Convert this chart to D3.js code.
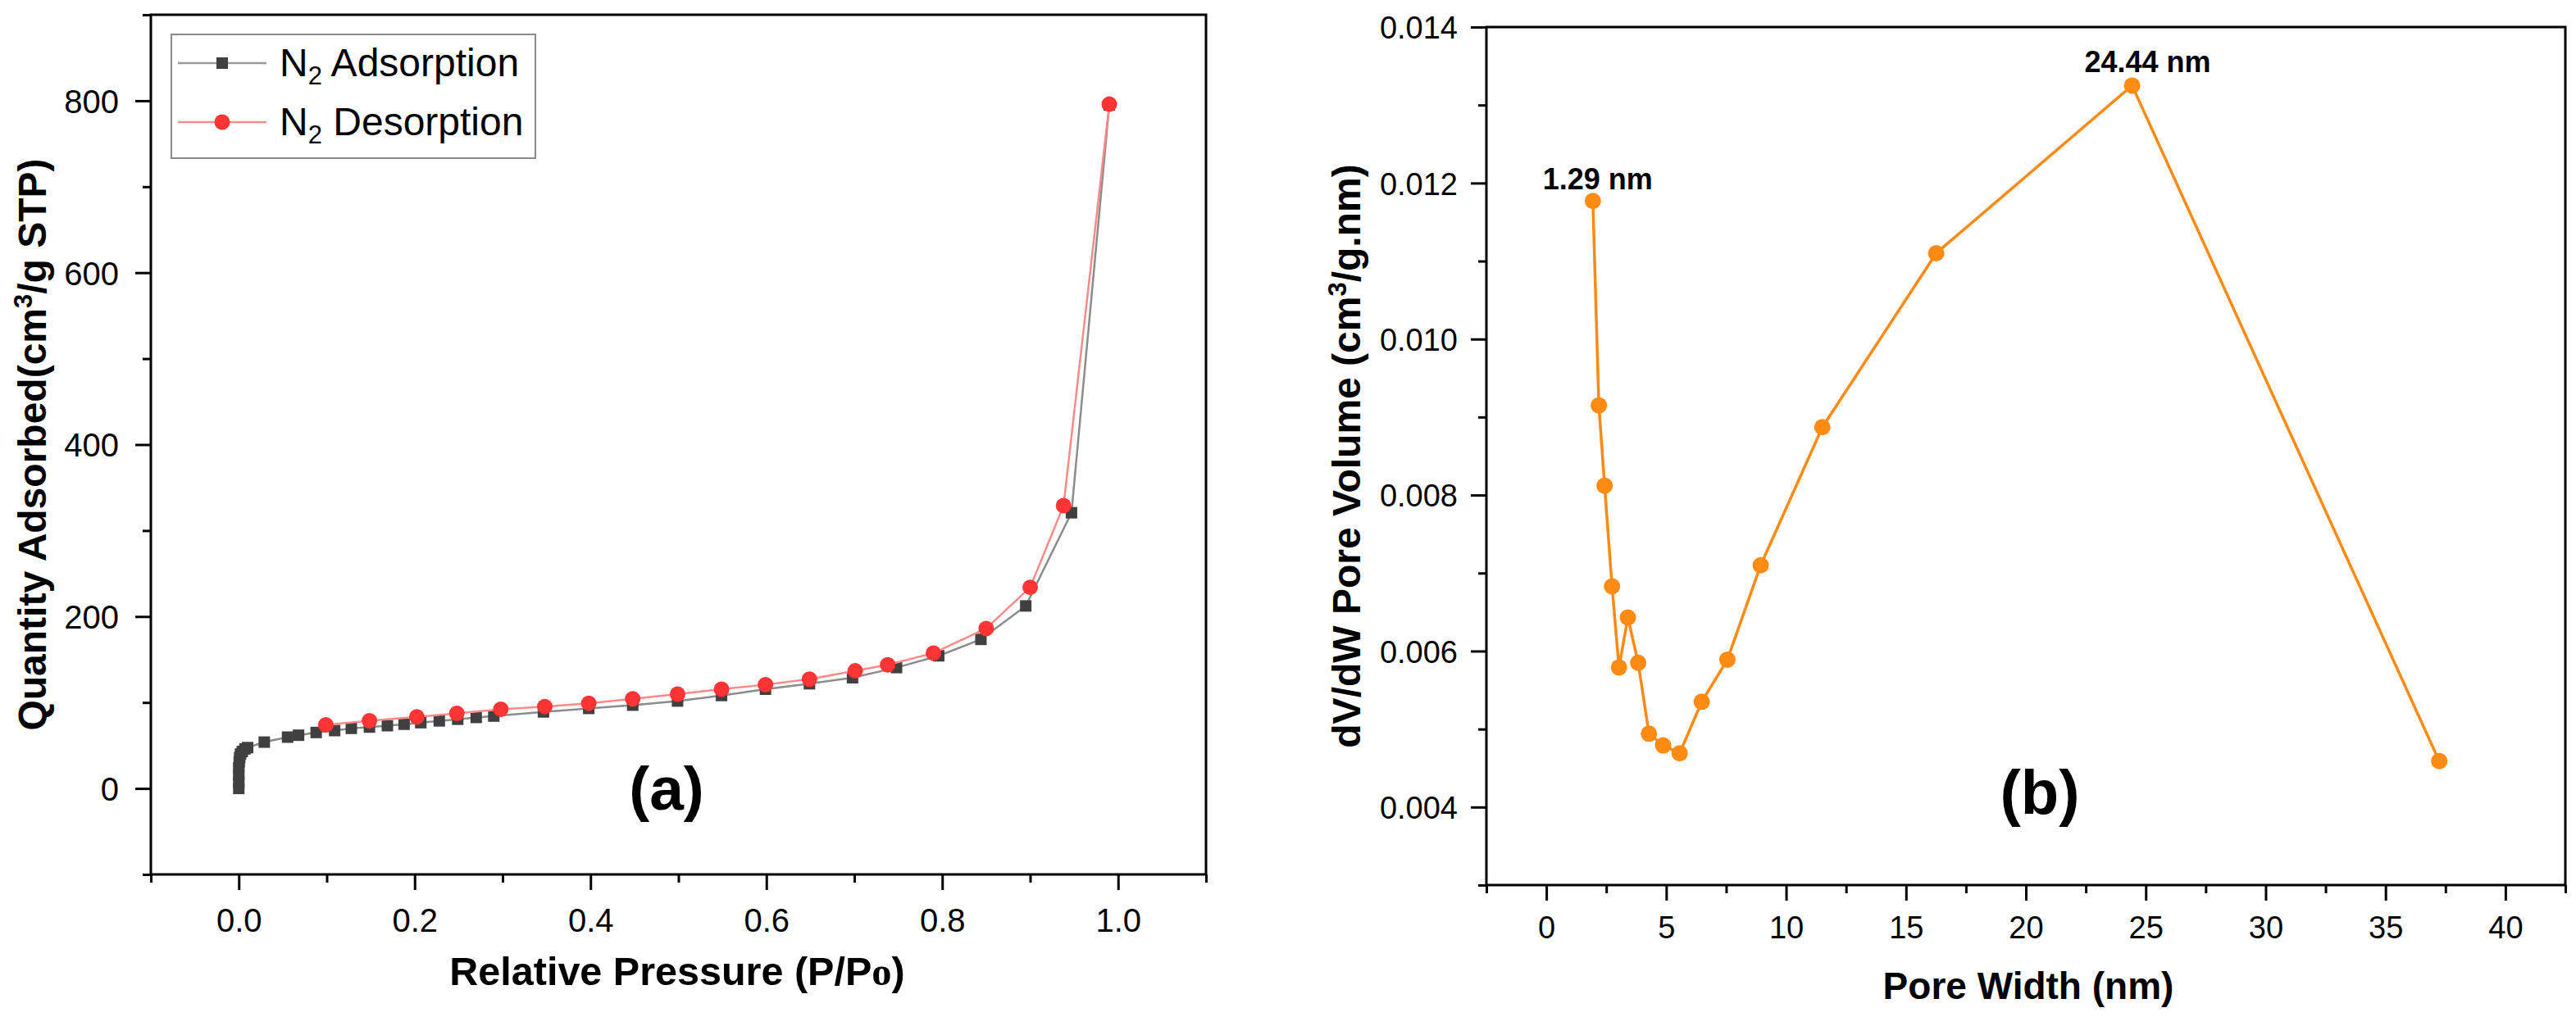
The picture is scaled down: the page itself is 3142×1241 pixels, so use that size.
<!DOCTYPE html>
<html>
<head>
<meta charset="utf-8">
<script src="https://cdn.jsdelivr.net/npm/d3@7"></script>
<style>
body{margin:0;background:#ffffff;}
svg text{font-family:"Liberation Sans",Arial,sans-serif;fill:#000;}
</style>
</head>
<body>
<svg id="chart"></svg>
<script>
// ---- panel (a) : N2 isotherm ----
var adsPressure = [0, 0, 0, 0, 0.0005, 0.001, 0.002, 0.004, 0.007, 0.010,
    0.029, 0.0555, 0.068, 0.088, 0.109, 0.128, 0.1486, 0.169, 0.188, 0.207,
    0.228, 0.249, 0.270, 0.290, 0.3465, 0.398, 0.448, 0.499, 0.549, 0.599,
    0.649, 0.698, 0.748, 0.796, 0.844, 0.895, 0.947, 0.990];
var adsQuantity = [0, 8, 16, 24, 31, 36, 40, 43, 46, 47.5,
    53.9, 59.7, 61.9, 65.1, 67.3, 69.9, 71.4, 73, 74.7, 76.5,
    78.6, 80.5, 82.6, 84.2, 89, 93.1, 96.9, 101.7, 108.1, 115.4,
    121.8, 128.8, 140.6, 154.3, 173.4, 212.3, 320.7, 795];

var desPressure = [0.990, 0.938, 0.900, 0.850, 0.790, 0.738, 0.701, 0.649, 0.599, 0.549,
    0.499, 0.448, 0.398, 0.348, 0.298, 0.248, 0.2025, 0.1486, 0.099];
var desQuantity = [796, 329, 234, 186.1, 157.5, 143.8, 136.8, 127.2, 120.8, 115.4,
    109.7, 104.3, 99.1, 95.3, 92.2, 87.4, 83.3, 78.8, 74];

var pressureMajor = [0, 0.2, 0.4, 0.6, 0.8, 1.0];
var pressureMinor = [-0.1, 0.1, 0.3, 0.5, 0.7, 0.9, 1.1];
var quantityMajor = [0, 200, 400, 600, 800];
var quantityMinor = [-100, 100, 300, 500, 700, 900];
var legendNames = ["Adsorption", "Desorption"];

// ---- panel (b) : pore size distribution ----
var poreWidth = [1.94, 2.19, 2.43, 2.74, 3.03, 3.40, 3.83, 4.28, 4.87, 5.56,
    6.48, 7.55, 8.94, 11.51, 16.26, 24.43, 37.24];
var poreVolume = [0.01177, 0.00915, 0.00812, 0.00683, 0.00579, 0.00643, 0.00585, 0.00494, 0.00479, 0.00469,
    0.00535, 0.00589, 0.00710, 0.00887, 0.01110, 0.01325, 0.00459];
var peakLabels = ["1.29 nm", "24.44 nm"];
var peakIndex = [0, 15];

var widthMajor = [0, 5, 10, 15, 20, 25, 30, 35, 40];
var widthMinor = [-2.5, 2.5, 7.5, 12.5, 17.5, 22.5, 27.5, 32.5, 37.5, 42.5];
var volumeMajor = [0.004, 0.006, 0.008, 0.010, 0.012, 0.014];
var volumeMinor = [0.003, 0.005, 0.007, 0.009, 0.011, 0.013];


var screen = {width:3142, height:1241};

var svg = d3.select("#chart")
    .attr("width", screen.width)
    .attr("height", screen.height);

svg.append("rect")
    .attr("width", screen.width)
    .attr("height", screen.height)
    .attr("fill", "#ffffff");

// draws frame, ticks and tick labels for one panel
var createAxes = function(box, xScale, yScale, ticks, fmt)
{
    var g = svg.append("g");

    var xMaj = d3.axisBottom(xScale).tickValues(ticks.xMajor).tickSize(19).tickSizeOuter(0).tickFormat(fmt.x);
    var xMin = d3.axisBottom(xScale).tickValues(ticks.xMinor).tickSize(10).tickSizeOuter(0).tickFormat("");
    var yMaj = d3.axisLeft(yScale).tickValues(ticks.yMajor).tickSize(19).tickSizeOuter(0).tickFormat(fmt.y);
    var yMin = d3.axisLeft(yScale).tickValues(ticks.yMinor).tickSize(10).tickSizeOuter(0).tickFormat("");

    [xMaj, xMin].forEach(function(ax)
    {
        g.append("g")
            .classed("xax", true)
            .attr("transform", "translate(0," + box.bottom + ")")
            .call(ax);
    });
    [yMaj, yMin].forEach(function(ax)
    {
        g.append("g")
            .classed("yax", true)
            .attr("transform", "translate(" + box.left + ",0)")
            .call(ax);
    });

    g.selectAll(".domain").remove();
    g.selectAll(".tick line")
        .attr("stroke", "#000")
        .attr("stroke-width", 3);

    g.selectAll("text")
        .attr("font-family", null)
        .style("font-size", fmt.size + "px");

    // x labels sit on a baseline below the axis
    g.selectAll(".xax .tick text")
        .attr("y", fmt.xBase)
        .attr("dy", 0);
    g.selectAll(".yax .tick text")
        .attr("x", -fmt.yGap)
        .attr("dy", "0.36em");

    g.append("rect")
        .attr("x", box.left)
        .attr("y", box.top)
        .attr("width", box.right - box.left)
        .attr("height", box.bottom - box.top)
        .attr("fill", "none")
        .attr("stroke", "#000")
        .attr("stroke-width", 3);
};

// ---------------- panel (a) ----------------
var boxA = {left:184, right:1471, top:18, bottom:1067};

var xA = d3.scaleLinear().domain([-0.1, 1.1]).range([boxA.left, boxA.right]);
var yA = d3.scaleLinear().domain([-100, 900]).range([boxA.bottom, boxA.top]);

createAxes(boxA, xA, yA,
    {xMajor:pressureMajor, xMinor:pressureMinor, yMajor:quantityMajor, yMinor:quantityMinor},
    {x:d3.format(".1f"), y:d3.format("d"), size:40, xBase:70, yGap:39});

var ads = adsPressure.map(function(p, i) { return {x:p, y:adsQuantity[i]}; });
var des = desPressure.map(function(p, i) { return {x:p, y:desQuantity[i]}; });

var lineA = d3.line()
    .x(function(d) { return xA(d.x); })
    .y(function(d) { return yA(d.y); });

var plotA = svg.append("g");

plotA.append("path")
    .datum(ads)
    .attr("d", lineA)
    .attr("fill", "none")
    .attr("stroke", "#8c8c8c")
    .attr("stroke-width", 2.5);

plotA.selectAll(".sq")
    .data(ads)
    .enter()
    .append("path")
    .classed("sq", true)
    .attr("d", d3.symbol().type(d3.symbolSquare).size(196))
    .attr("transform", function(d) { return "translate(" + xA(d.x) + "," + yA(d.y) + ")"; })
    .attr("fill", "#404040");

plotA.append("path")
    .datum(des)
    .attr("d", lineA)
    .attr("fill", "none")
    .attr("stroke", "#ff8a8a")
    .attr("stroke-width", 2.5);

plotA.selectAll(".ci")
    .data(des)
    .enter()
    .append("circle")
    .classed("ci", true)
    .attr("cx", function(d) { return xA(d.x); })
    .attr("cy", function(d) { return yA(d.y); })
    .attr("r", 9.5)
    .attr("fill", "#ff3434");

// legend
var legend = svg.append("g");
legend.append("rect")
    .attr("x", 209).attr("y", 42)
    .attr("width", 444).attr("height", 151)
    .attr("fill", "#ffffff")
    .attr("stroke", "#8a8a8a")
    .attr("stroke-width", 2);

var legendRows = legend.selectAll(".row")
    .data(legendNames)
    .enter()
    .append("g")
    .classed("row", true)
    .attr("transform", function(d, i) { return "translate(0," + (77 + i * 72) + ")"; });

legendRows.append("line")
    .attr("x1", 217).attr("x2", 325)
    .attr("stroke", function(d, i) { return i == 0 ? "#9a9a9a" : "#ff8a8a"; })
    .attr("stroke-width", 2.5);

legendRows.filter(function(d, i) { return i == 0; })
    .append("path")
    .attr("d", d3.symbol().type(d3.symbolSquare).size(196))
    .attr("transform", "translate(271,0)")
    .attr("fill", "#404040");
legendRows.filter(function(d, i) { return i == 1; })
    .append("circle")
    .attr("cx", 271)
    .attr("r", 9.5)
    .attr("fill", "#ff3434");

var legendText = legendRows.append("text")
    .attr("x", 341)
    .attr("y", 16)
    .style("font-size", "48px");
legendText.append("tspan").text("N");
legendText.append("tspan").text("2").style("font-size", "31px").attr("dy", 10);
legendText.append("tspan").text(" ").attr("dy", -10);
legendText.append("tspan").text(function(d) { return d; });

// titles (a)
var titleA = svg.append("text")
    .attr("x", 826)
    .attr("y", 1202)
    .attr("text-anchor", "middle")
    .style("font-size", "48.5px")
    .style("font-weight", "bold");
titleA.append("tspan").text("Relative Pressure (P/P");
titleA.append("tspan").text("o").style("font-family", "'Liberation Serif','Times New Roman',serif");
titleA.append("tspan").text(")");

var yTitleA = svg.append("text")
    .attr("transform", "translate(56," + ((boxA.top + boxA.bottom) / 2) + ") rotate(-90)")
    .attr("text-anchor", "middle")
    .style("font-size", "48px")
    .style("font-weight", "bold");
yTitleA.append("tspan").text("Quantity Adsorbed(cm");
yTitleA.append("tspan").text("3").style("font-size", "31px").attr("dy", -17);
yTitleA.append("tspan").text("/g STP)").attr("dy", 17);

svg.append("text")
    .text("(a)")
    .attr("x", 813)
    .attr("y", 988)
    .attr("text-anchor", "middle")
    .style("font-size", "75px")
    .style("font-weight", "bold");

// ---------------- panel (b) ----------------
var boxB = {left:1813, right:3129, top:33, bottom:1080};

var xB = d3.scaleLinear().domain([-2.5, 42.5]).range([boxB.left, boxB.right]);
var yB = d3.scaleLinear().domain([0.003, 0.014]).range([boxB.bottom, boxB.top]);

createAxes(boxB, xB, yB,
    {xMajor:widthMajor, xMinor:widthMinor, yMajor:volumeMajor, yMinor:volumeMinor},
    {x:d3.format("d"), y:d3.format(".3f"), size:38, xBase:65, yGap:35});

var pores = poreWidth.map(function(w, i) { return {x:w, y:poreVolume[i]}; });

var lineB = d3.line()
    .x(function(d) { return xB(d.x); })
    .y(function(d) { return yB(d.y); });

var plotB = svg.append("g");

plotB.append("path")
    .datum(pores)
    .attr("d", lineB)
    .attr("fill", "none")
    .attr("stroke", "#ff8a14")
    .attr("stroke-width", 3.5);

plotB.selectAll("circle")
    .data(pores)
    .enter()
    .append("circle")
    .attr("cx", function(d) { return xB(d.x); })
    .attr("cy", function(d) { return yB(d.y); })
    .attr("r", 10)
    .attr("fill", "#ff8a14");

var labelOffsets = [[6, -14], [19, -16]];
plotB.selectAll(".peak")
    .data(peakLabels)
    .enter()
    .append("text")
    .classed("peak", true)
    .text(function(d) { return d; })
    .attr("x", function(d, i) { return xB(pores[peakIndex[i]].x) + labelOffsets[i][0]; })
    .attr("y", function(d, i) { return yB(pores[peakIndex[i]].y) + labelOffsets[i][1]; })
    .attr("text-anchor", "middle")
    .style("font-size", "36px")
    .style("font-weight", "bold");

svg.append("text")
    .text("Pore Width (nm)")
    .attr("x", 2474)
    .attr("y", 1219)
    .attr("text-anchor", "middle")
    .style("font-size", "46px")
    .style("font-weight", "bold");

var yTitleB = svg.append("text")
    .attr("transform", "translate(1659," + ((boxB.top + boxB.bottom) / 2) + ") rotate(-90)")
    .attr("text-anchor", "middle")
    .style("font-size", "48px")
    .style("font-weight", "bold");
yTitleB.append("tspan").text("dV/dW Pore Volume (cm");
yTitleB.append("tspan").text("3").style("font-size", "31px").attr("dy", -17);
yTitleB.append("tspan").text("/g.nm)").attr("dy", 17);

svg.append("text")
    .text("(b)")
    .attr("x", 2488)
    .attr("y", 993)
    .attr("text-anchor", "middle")
    .style("font-size", "76px")
    .style("font-weight", "bold");
</script>
</body>
</html>
